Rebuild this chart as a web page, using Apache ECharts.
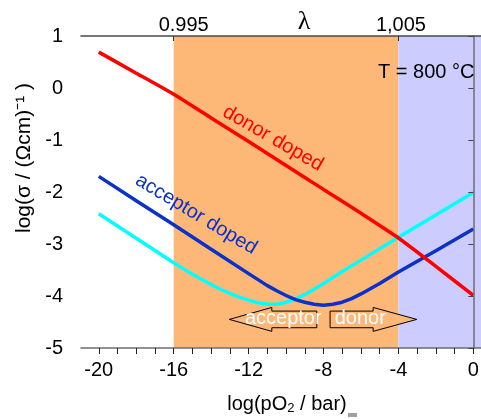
<!DOCTYPE html>
<html>
<head>
<meta charset="utf-8">
<script src="https://cdn.jsdelivr.net/npm/echarts@6/dist/echarts.min.js"></script>
<style>
  html, body { margin: 0; padding: 0; background: #fff; }
  #c { width: 481px; height: 419px; }
</style>
</head>
<body>
<div id="c"></div>
<script>
// Conductivity vs. oxygen partial pressure at 800 °C
const pO2Donor = [-20, -18, -16, -14, -12, -10, -8, -6, -4, -2, 0];
const logSigmaDonor = [0.69, 0.285, -0.12, -0.575, -1.03, -1.49, -1.95, -2.41, -2.885, -3.43, -3.99];

const pO2Acceptor = [-20, -18, -16, -14, -12, -11, -10.5, -10, -9.5, -9, -8.5, -8, -7.5, -7, -6.5, -6, -5.5, -5, -4, -2, 0];
const logSigmaAcceptor = [-1.70, -2.17, -2.63, -3.10, -3.57, -3.80, -3.90, -3.99, -4.07, -4.12, -4.16, -4.18, -4.16, -4.12, -4.05, -3.96, -3.86, -3.76, -3.54, -3.13, -2.71];

const pO2Undoped = [-20, -18, -16, -15, -14, -13.5, -13, -12.5, -12, -11.5, -11, -10.5, -10, -9.5, -9, -8.5, -8, -7, -6, -5, -4, -2, 0];
const logSigmaUndoped = [-2.42, -2.89, -3.36, -3.58, -3.78, -3.87, -3.95, -4.02, -4.08, -4.13, -4.16, -4.16, -4.12, -4.06, -3.97, -3.87, -3.76, -3.53, -3.31, -3.09, -2.87, -2.44, -2.01];

// Stoichiometry bands (log pO2 limits) and their λ labels
const bandLimits = [-16, -4];
const lambdaTickValues = [-16, -4];
const lambdaTickLabels = ['0.995', '1,005'];

// Bottom axis ticks
const xMinorTicks = [-20, -19, -18, -17, -16, -15, -14, -13, -12, -11, -10, -9, -8, -7, -6, -5, -4, -3, -2, -1, 0];
const xLabelTicks = [-20, -16, -12, -8, -4, 0];

const X_MIN = -20.95, X_MAX = 0.41;
const FONT = '"Liberation Sans", Arial, sans-serif';
const ORANGE = '#fdb878';
const BLUE_BAND = '#ccccff';

const pairs = (xs, ys) => xs.map((x, i) => [x, ys[i]]);

const option = {
  animation: false,
  backgroundColor: '#fff',
  grid: { left: 81, right: 0, top: 36, bottom: 71, containLabel: false, outerBoundsMode: 'none' },
  xAxis: [
    {
      type: 'value', position: 'bottom', min: X_MIN, max: X_MAX, z: 5,
      axisLine: { show: true, onZero: false, lineStyle: { color: '#6e6e6e', width: 1.5 } },
      axisTick: { show: true, customValues: xMinorTicks, length: 6, lineStyle: { color: '#222', width: 1 } },
      axisLabel: {
        customValues: xLabelTicks, margin: 12, color: '#000',
        fontSize: 20, fontFamily: FONT
      },
      splitLine: { show: false },
      name: 'log(pO{sub|2} / bar)',
      nameLocation: 'middle', nameGap: 45, nameMoveOverlap: false,
      nameTextStyle: {
        color: '#000', fontSize: 20, fontFamily: FONT, padding: [0, 0, 0, 12],
        rich: { sub: { fontSize: 13, fontFamily: FONT, color: '#000', padding: [9, 0, 0, 0] } }
      }
    },
    {
      type: 'value', position: 'top', min: X_MIN, max: X_MAX, z: 5,
      axisLine: { show: true, onZero: false, lineStyle: { color: '#4a4a4a', width: 1.5 } },
      axisTick: { show: true, inside: true, customValues: lambdaTickValues, length: 5, lineStyle: { color: '#333', width: 1 } },
      axisLabel: {
        customValues: lambdaTickValues, margin: 1,
        formatter: v => {
          const i = lambdaTickValues.indexOf(v);
          return i === 0 ? '{a|' + lambdaTickLabels[0] + '}' : '{b|' + lambdaTickLabels[1] + '}';
        },
        rich: {
          a: { fontSize: 20, fontFamily: FONT, color: '#000', padding: [0, 0, 0, 20] },
          b: { fontSize: 20, fontFamily: FONT, color: '#000', padding: [0, 0, 0, 5] }
        }
      },
      splitLine: { show: false },
      name: 'λ',
      nameLocation: 'middle', nameGap: 1, nameMoveOverlap: false,
      nameTextStyle: { color: '#000', fontSize: 26, fontFamily: '"Liberation Serif", serif', padding: [0, 0, 0, 46] }
    }
  ],
  yAxis: {
    type: 'value', min: -5, max: 1, interval: 1, z: 5,
    axisLine: { show: true, lineStyle: { color: '#6e6e6e', width: 1.5 } },
    axisTick: { show: true, length: 5, lineStyle: { color: '#444', width: 1 } },
    axisLabel: { margin: 18, color: '#000', fontSize: 20, fontFamily: FONT },
    splitLine: { show: false }
  },
  series: [
    {
      name: 'bands', type: 'line', data: [], z: 1, silent: true,
      markArea: {
        silent: true,
        data: [
          [{ xAxis: bandLimits[0], itemStyle: { color: ORANGE } }, { xAxis: bandLimits[1] }],
          [{ xAxis: bandLimits[1], itemStyle: { color: BLUE_BAND } }, { xAxis: X_MAX }]
        ]
      }
    },
    {
      name: 'undoped', type: 'line', z: 3, smooth: false, showSymbol: false,
      data: pairs(pO2Undoped, logSigmaUndoped),
      lineStyle: { color: '#00ffff', width: 3.5, join: 'round' }
    },
    {
      name: 'acceptor doped', type: 'line', z: 4, smooth: false, showSymbol: false,
      data: pairs(pO2Acceptor, logSigmaAcceptor),
      lineStyle: { color: '#0a32c8', width: 3.5, join: 'round' }
    },
    {
      name: 'donor doped', type: 'line', z: 4, smooth: 0.2, showSymbol: false,
      data: pairs(pO2Donor, logSigmaDonor),
      lineStyle: { color: '#ff0000', width: 3.5 }
    }
  ]
};

const chart = echarts.init(document.getElementById('c'), null, { renderer: 'canvas' });
chart.setOption(option);

// Annotations placed in data coordinates
const px = (x, y) => chart.convertToPixel({ xAxisIndex: 0, yAxisIndex: 0 }, [x, y]);

function arrowPoints(tip, headBase, tail, yc, h, H) {
  return [
    px(tip, yc), px(headBase, yc + H), px(headBase, yc + h),
    px(tail, yc + h), px(tail, yc - h), px(headBase, yc - h), px(headBase, yc - H)
  ];
}

const yc = -4.45, hBody = 0.16, hHead = 0.23;
const labelDonor = px(-10.7, -0.97);
const labelAcceptor = px(-14.8, -2.43);
const tempPos = px(-5.09, 0.29);
const accText = px(-10.15, -4.43);
const donText = px(-6.04, -4.43);

chart.setOption({
  graphic: [
    {
      type: 'polygon', z: 10,
      shape: { points: arrowPoints(-13.03, -10.76, -8.36, yc, hBody, hHead) },
      style: { fill: ORANGE, stroke: '#000', lineWidth: 1 }
    },
    {
      type: 'polygon', z: 10,
      shape: { points: arrowPoints(-3.02, -5.35, -7.65, yc, hBody, hHead) },
      style: { fill: ORANGE, stroke: '#000', lineWidth: 1 }
    },
    {
      type: 'text', z: 11, x: accText[0], y: accText[1],
      style: { text: 'acceptor', fill: '#fff', font: '20px ' + FONT, align: 'center', verticalAlign: 'middle' }
    },
    {
      type: 'text', z: 11, x: donText[0], y: donText[1],
      style: { text: 'donor', fill: '#fff', font: '20px ' + FONT, align: 'center', verticalAlign: 'middle' }
    },
    {
      type: 'text', z: 11, x: labelDonor[0], y: labelDonor[1], rotation: -30 * Math.PI / 180,
      style: { text: 'donor doped', fill: '#ff0000', font: '20px ' + FONT, align: 'center', verticalAlign: 'middle' }
    },
    {
      type: 'text', z: 11, x: labelAcceptor[0], y: labelAcceptor[1], rotation: -31 * Math.PI / 180,
      style: { text: 'acceptor doped', fill: '#0a32c8', font: '20px ' + FONT, align: 'center', verticalAlign: 'middle' }
    },
    {
      type: 'text', z: 11, x: tempPos[0], y: tempPos[1],
      style: { text: 'T = 800 °C', fill: '#000', font: '20px ' + FONT, align: 'left', verticalAlign: 'middle' }
    },
    {
      type: 'text', z: 11, x: 24, y: 158, rotation: Math.PI / 2,
      style: {
        text: 'log(σ / (Ωcm)⁻¹ )', fill: '#000', font: '21px ' + FONT,
        align: 'center', verticalAlign: 'middle'
      }
    },
    {
      type: 'rect', z: 11, shape: { x: 348, y: 413, width: 9, height: 4 },
      style: { fill: '#a0a0a0' }
    }
  ]
});
</script>
</body>
</html>
